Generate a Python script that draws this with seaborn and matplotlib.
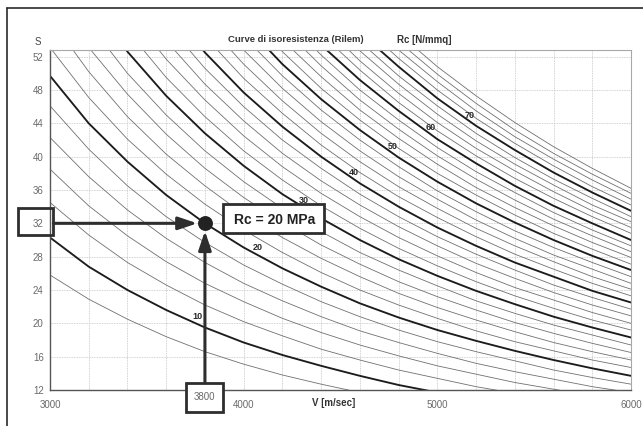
import matplotlib
matplotlib.use("Agg")
import matplotlib.pyplot as plt
import matplotlib.transforms as mtransforms
from matplotlib.patches import Rectangle
from matplotlib.lines import Line2D
from matplotlib.ticker import MultipleLocator, FixedLocator
import pandas as pd
import seaborn as sns

# ---------------- data ----------------
N = None
V_STATIONS = [3000, 3200, 3400, 3600, 3800, 4000, 4200, 4400,
              4600, 4800, 5000, 5200, 5400, 5600, 5800, 6000]
RC_LEVELS = list(range(8, 80, 2))

S_08 = [25.8, 22.9, 20.5, 18.4, 16.6, 15.1, 13.8, 12.7, 11.7, N, N, N, N, N, N, N]
S_10 = [30.3, 26.8, 24.0, 21.6, 19.5, 17.7, 16.2, 14.9, 13.7, 12.6, 11.7, N, N, N, N, N]
S_12 = [34.5, 30.6, 27.3, 24.6, 22.2, 20.2, 18.5, 16.9, 15.6, 14.4, 13.4, 12.4, 11.6, N, N, N]
S_14 = [38.5, 34.1, 30.5, 27.4, 24.8, 22.6, 20.6, 18.9, 17.4, 16.1, 14.9, 13.9, 12.9, 12.1, 11.3, N]
S_16 = [42.3, 37.6, 33.6, 30.2, 27.3, 24.8, 22.7, 20.8, 19.1, 17.7, 16.4, 15.2, 14.2, 13.3, 12.4, 11.7]
S_18 = [46.1, 40.9, 36.5, 32.8, 29.7, 27.0, 24.7, 22.6, 20.8, 19.2, 17.8, 16.6, 15.5, 14.4, 13.5, 12.7]
S_20 = [49.7, 44.0, 39.4, 35.4, 32.0, 29.1, 26.6, 24.4, 22.4, 20.7, 19.2, 17.9, 16.7, 15.6, 14.6, 13.7]
S_22 = [53.1, 47.1, 42.1, 37.9, 34.3, 31.2, 28.5, 26.1, 24.0, 22.2, 20.6, 19.1, 17.8, 16.7, 15.6, 14.7]
S_24 = [56.6, 50.2, 44.8, 40.3, 36.5, 33.1, 30.3, 27.8, 25.6, 23.6, 21.9, 20.4, 19.0, 17.7, 16.6, 15.6]
S_26 = [59.9, 53.1, 47.5, 42.7, 38.6, 35.1, 32.1, 29.4, 27.1, 25.0, 23.2, 21.6, 20.1, 18.8, 17.6, 16.5]
S_28 = [N, 56.0, 50.0, 45.0, 40.7, 37.0, 33.8, 31.0, 28.5, 26.4, 24.5, 22.7, 21.2, 19.8, 18.6, 17.4]
S_30 = [N, 58.8, 52.6, 47.3, 42.8, 38.9, 35.5, 32.6, 30.0, 27.7, 25.7, 23.9, 22.3, 20.8, 19.5, 18.3]
S_32 = [N, N, 55.1, 49.5, 44.8, 40.7, 37.2, 34.1, 31.4, 29.0, 26.9, 25.0, 23.3, 21.8, 20.4, 19.2]
S_34 = [N, N, 57.5, 51.7, 46.8, 42.5, 38.8, 35.6, 32.8, 30.3, 28.1, 26.1, 24.3, 22.8, 21.3, 20.0]
S_36 = [N, N, N, 53.9, 48.7, 44.3, 40.4, 37.1, 34.2, 31.6, 29.3, 27.2, 25.4, 23.7, 22.2, 20.9]
S_38 = [N, N, N, 56.0, 50.6, 46.0, 42.0, 38.6, 35.5, 32.8, 30.4, 28.3, 26.4, 24.6, 23.1, 21.7]
S_40 = [N, N, N, 58.1, 52.5, 47.7, 43.6, 40.0, 36.8, 34.0, 31.5, 29.3, 27.3, 25.6, 23.9, 22.5]
S_42 = [N, N, N, N, 54.4, 49.4, 45.2, 41.4, 38.1, 35.2, 32.7, 30.4, 28.3, 26.5, 24.8, 23.3]
S_44 = [N, N, N, N, 56.2, 51.1, 46.7, 42.8, 39.4, 36.4, 33.8, 31.4, 29.3, 27.4, 25.6, 24.1]
S_46 = [N, N, N, N, 58.0, 52.8, 48.2, 44.2, 40.7, 37.6, 34.9, 32.4, 30.2, 28.2, 26.5, 24.8]
S_48 = [N, N, N, N, N, 54.4, 49.7, 45.6, 42.0, 38.8, 35.9, 33.4, 31.1, 29.1, 27.3, 25.6]
S_50 = [N, N, N, N, N, 56.0, 51.1, 46.9, 43.2, 39.9, 37.0, 34.4, 32.1, 30.0, 28.1, 26.4]
S_52 = [N, N, N, N, N, 57.6, 52.6, 48.2, 44.4, 41.0, 38.0, 35.4, 33.0, 30.8, 28.9, 27.1]
S_54 = [N, N, N, N, N, N, 54.0, 49.6, 45.6, 42.2, 39.1, 36.3, 33.9, 31.7, 29.7, 27.9]
S_56 = [N, N, N, N, N, N, 55.5, 50.9, 46.8, 43.3, 40.1, 37.3, 34.8, 32.5, 30.5, 28.6]
S_58 = [N, N, N, N, N, N, 56.9, 52.2, 48.0, 44.4, 41.1, 38.2, 35.7, 33.3, 31.2, 29.3]
S_60 = [N, N, N, N, N, N, N, 53.4, 49.2, 45.5, 42.1, 39.2, 36.5, 34.1, 32.0, 30.0]
S_62 = [N, N, N, N, N, N, N, 54.7, 50.4, 46.5, 43.1, 40.1, 37.4, 35.0, 32.8, 30.8]
S_64 = [N, N, N, N, N, N, N, 56.0, 51.5, 47.6, 44.1, 41.0, 38.3, 35.8, 33.5, 31.5]
S_66 = [N, N, N, N, N, N, N, 57.2, 52.7, 48.7, 45.1, 41.9, 39.1, 36.6, 34.2, 32.2]
S_68 = [N, N, N, N, N, N, N, N, 53.8, 49.7, 46.1, 42.8, 39.9, 37.3, 35.0, 32.8]
S_70 = [N, N, N, N, N, N, N, N, 54.9, 50.8, 47.0, 43.7, 40.8, 38.1, 35.7, 33.5]
S_72 = [N, N, N, N, N, N, N, N, 56.0, 51.8, 48.0, 44.6, 41.6, 38.9, 36.4, 34.2]
S_74 = [N, N, N, N, N, N, N, N, 57.2, 52.8, 49.0, 45.5, 42.4, 39.7, 37.2, 34.9]
S_76 = [N, N, N, N, N, N, N, N, N, 53.8, 49.9, 46.4, 43.2, 40.4, 37.9, 35.6]
S_78 = [N, N, N, N, N, N, N, N, N, 54.8, 50.8, 47.3, 44.1, 41.2, 38.6, 36.2]

CURVES = [S_08, S_10, S_12, S_14, S_16, S_18, S_20, S_22, S_24, S_26,
          S_28, S_30, S_32, S_34, S_36, S_38, S_40, S_42, S_44, S_46,
          S_48, S_50, S_52, S_54, S_56, S_58, S_60, S_62, S_64, S_66,
          S_68, S_70, S_72, S_74, S_76, S_78]

# curve labels (level, V, S where the label sits)
LABEL_LEVELS = [10, 20, 30, 40, 50, 60, 70]
LABEL_V = [3763, 4074, 4313, 4567, 4770, 4967, 5169]
LABEL_S = [20.8, 29.1, 34.8, 38.1, 41.2, 43.5, 45.0]

# worked example
READ_V = 3800
READ_S = 32
RESULT_RC = 20

X_TICKS = [3000, 4000, 5000, 6000]
Y_TICKS = list(range(12, 53, 4))

# ---------------- build the table ----------------
rows = []
for lvl, ser in zip(RC_LEVELS, CURVES):
    for v, s in zip(V_STATIONS, ser):
        if s is not None:
            rows.append((lvl, v, s))
df = pd.DataFrame(rows, columns=["Rc", "V", "S"])
df["major"] = df["Rc"] % 10 == 0

# ---------------- style ----------------
sns.set_style("white")
plt.rcParams["font.family"] = ["Liberation Sans", "DejaVu Sans"]

W, H = 643, 426
fig = plt.figure(figsize=(W / 100, H / 100), dpi=100)
fig.patch.set_facecolor("white")
ax = fig.add_axes([50 / W, 1 - 390 / H, 581 / W, 340 / H])

sns.lineplot(data=df[~df["major"]], x="V", y="S", units="Rc", estimator=None,
             sort=False, color="#707070", linewidth=0.6, ax=ax, legend=False)
sns.lineplot(data=df[df["major"]], x="V", y="S", units="Rc", estimator=None,
             sort=False, color="#1c1c1c", linewidth=1.35, ax=ax, legend=False)

ax.set_xlim(3000, 6000)
ax.set_ylim(12, 52.8)
ax.xaxis.set_major_locator(FixedLocator(X_TICKS))
ax.xaxis.set_minor_locator(MultipleLocator(200))
ax.yaxis.set_major_locator(FixedLocator(Y_TICKS))
ax.set_xlabel("")
ax.set_ylabel("")
ax.grid(which="major", color="#c4c4c4", linestyle=(0, (1, 1)), linewidth=0.6)
ax.grid(which="minor", axis="x", color="#c4c4c4", linestyle=(0, (1, 1)), linewidth=0.6)
ax.set_axisbelow(True)
ax.tick_params(axis="both", which="major", labelsize=7, labelcolor="#6a6a6a",
               color="#555555", width=0.8)
ax.tick_params(axis="x", which="major", length=3, pad=4, direction="out")
ax.tick_params(axis="y", which="major", length=2.5, pad=2, direction="out")
ax.tick_params(axis="x", which="minor", length=0)
for side in ["left", "bottom"]:
    ax.spines[side].set_color("#555555")
    ax.spines[side].set_linewidth(1.0)
for side in ["top", "right"]:
    ax.spines[side].set_color("#a8a8a8")
    ax.spines[side].set_linewidth(0.8)

# curve labels
for lvl, lv, ls in zip(LABEL_LEVELS, LABEL_V, LABEL_S):
    ax.text(lv, ls, str(lvl), fontsize=6.5, fontweight="bold", color="#2a2a2a",
            ha="center", va="center", zorder=3)

# ---------------- worked example ----------------
dark = "#2e2e2e"
arrow_kw = dict(arrowstyle="-|>,head_length=0.95,head_width=0.32",
                color=dark, lw=2.2, shrinkA=0, shrinkB=5.5, mutation_scale=12)
ax.annotate("", xy=(READ_V, READ_S), xycoords="data",
            xytext=(0.006, READ_S), textcoords=("axes fraction", "data"),
            arrowprops=arrow_kw, zorder=5, annotation_clip=False)
ax.annotate("", xy=(READ_V, READ_S), xycoords="data",
            xytext=(READ_V, 0.02), textcoords=("data", "axes fraction"),
            arrowprops=arrow_kw, zorder=5, annotation_clip=False)
sns.scatterplot(x=[READ_V], y=[READ_S], s=115, color="#222222", ax=ax,
                zorder=6, linewidth=0, clip_on=False, legend=False)

# box around the S tick label
tr_ay = mtransforms.blended_transform_factory(ax.transAxes, ax.transData)
ax.add_patch(Rectangle((-0.055, READ_S - 1.4), 0.061, 3.3, transform=tr_ay,
                       fill=False, ec=dark, lw=2.0, clip_on=False, zorder=6))
# box with the V value
tr_xa = mtransforms.blended_transform_factory(ax.transData, ax.transAxes)
ax.add_patch(Rectangle((READ_V - 100, -0.065), 195, 0.085, transform=tr_xa,
                       fc="white", ec=dark, lw=2.0, clip_on=False, zorder=6))
ax.text(READ_V - 2, -0.022, str(READ_V), transform=tr_xa, fontsize=7,
        color="#6a6a6a", ha="center", va="center", zorder=7)
# result box
ax.add_patch(Rectangle((READ_V + 93, READ_S - 1.13), 524, 3.48,
                       fc="white", ec=dark, lw=2.0, clip_on=False, zorder=6))
ax.text(READ_V + 360, READ_S + 0.4, f"Rc = {RESULT_RC} MPa", fontsize=10,
        fontweight="bold", color="#222222", ha="center", va="center", zorder=7)

# ---------------- titles ----------------
fig.text(38 / W, 1 - 42 / H, "S", fontsize=7, color="#444444",
         ha="center", va="center")
fig.text(296 / W, 1 - 40 / H, "Curve di isoresistenza (Rilem)", fontsize=6.8,
         fontweight="bold", color="#333333", ha="center", va="center")
fig.text(424 / W, 1 - 40 / H, "Rc [N/mmq]", fontsize=7, fontweight="bold",
         color="#333333", ha="center", va="center")
fig.text(334 / W, 1 - 403 / H, "V [m/sec]", fontsize=7, fontweight="bold",
         color="#333333", ha="center", va="center")

# scanned page frame
fig.add_artist(Line2D([7 / W, 1], [1 - 8 / H, 1 - 8 / H], transform=fig.transFigure,
                      color="#2a2a2a", lw=1.2))
fig.add_artist(Line2D([7 / W, 7 / W], [0, 1 - 8 / H], transform=fig.transFigure,
                      color="#2a2a2a", lw=1.2))

fig.savefig("out.png", dpi=100, facecolor="white")
